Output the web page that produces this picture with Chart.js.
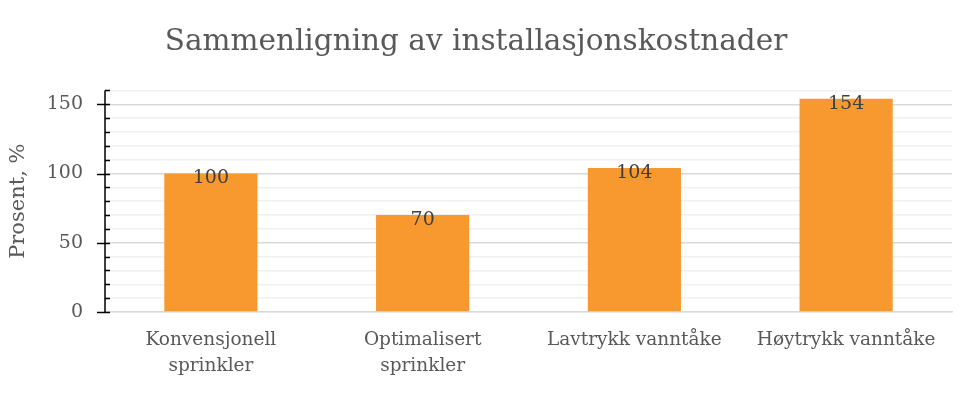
<!DOCTYPE html>
<html>
<head>
<meta charset="utf-8">
<script src="https://cdn.jsdelivr.net/npm/chart.js@4"></script>
<style>
  html, body { margin: 0; padding: 0; background: #fff; }
  #wrap { width: 960px; height: 394px; }
</style>
</head>
<body>
<div id="wrap"><canvas id="chart" width="960" height="394"></canvas></div>
<script>
// data
const categories = [
    ["Konvensjonell", "sprinkler"],
    ["Optimalisert", "sprinkler"],
    "Lavtrykk vanntåke",
    "Høytrykk vanntåke"
];
const costPercent = [100, 70, 104, 154];
const yMajorTicks = [0, 50, 100, 150];

const FONT = "'DejaVu Serif', 'Liberation Serif', serif";
const TEXT = "#595959";

// value labels just under the top of each bar
const barLabels = {
    id: "barLabels",
    afterDatasetsDraw(chart) {
        const ctx = chart.ctx;
        const meta = chart.getDatasetMeta(0);
        ctx.save();
        ctx.font = "19px " + FONT;
        ctx.fillStyle = "#404040";
        ctx.textAlign = "center";
        ctx.textBaseline = "middle";
        meta.data.forEach((bar, i) => {
            ctx.fillText(String(costPercent[i]), bar.x, bar.y + 5);
        });
        ctx.restore();
    }
};

// black tick marks: major cross the axis, minor sit inside
const axisTicks = {
    id: "axisTicks",
    afterDraw(chart) {
        const y = chart.scales.y;
        const ctx = chart.ctx;
        const x0 = y.right;
        ctx.save();
        ctx.strokeStyle = "#000";
        ctx.lineWidth = 1.5;
        ctx.beginPath();
        ctx.moveTo(x0, y.getPixelForValue(0));
        ctx.lineTo(x0, y.top);
        y.ticks.forEach(t => {
            const py = Math.round(y.getPixelForValue(t.value)) + 0.5;
            const major = yMajorTicks.includes(t.value);
            ctx.moveTo(major ? x0 - 8 : x0, py);
            ctx.lineTo(x0 + 5, py);
        });
        ctx.stroke();
        ctx.restore();
    }
};

let costChart;

function initChart() {
    const ctx = document.getElementById("chart");
    costChart = new Chart(ctx, {
        type: "bar",
        data: {
            labels: categories,
            datasets: [{
                label: "Kostnad",
                data: costPercent,
                backgroundColor: "#F7992F",
                categoryPercentage: 1,
                barPercentage: 0.44,
            }],
        },
        options: {
            responsive: false,
            animation: false,
            layout: { padding: { left: 0, right: 8, top: 0, bottom: 0 } },
            plugins: {
                legend: { display: false },
                tooltip: { enabled: false },
                title: {
                    display: true,
                    text: "Sammenligning av installasjonskostnader",
                    color: TEXT,
                    font: { family: FONT, size: 29.5, weight: "normal" },
                    padding: { top: 25, bottom: 30 },
                },
            },
            scales: {
                x: {
                    grid: { display: false, drawTicks: false },
                    border: { color: "#d9d9d9", width: 1.5 },
                    ticks: {
                        color: TEXT,
                        padding: 15,
                        maxRotation: 0,
                        autoSkip: false,
                        font: { family: FONT, size: 18.5, lineHeight: 1.4 },
                    },
                    afterFit(scale) { scale.height = 82; },
                },
                y: {
                    min: 0,
                    max: 160,
                    ticks: {
                        stepSize: 10,
                        autoSkip: false,
                        color: TEXT,
                        padding: 14,
                        font: { family: FONT, size: 19 },
                        callback: v => (yMajorTicks.includes(v) ? v : ""),
                    },
                    grid: {
                        drawTicks: true,
                        tickLength: 8,
                        tickColor: "rgba(0,0,0,0)",
                        color: c => (yMajorTicks.includes(c.tick.value) && c.tick.value !== 0 ? "#d9d9d9" : "#f0f0f0"),
                        lineWidth: 1.5,
                    },
                    border: { display: false },
                    title: {
                        display: true,
                        text: "Prosent, %",
                        color: TEXT,
                        font: { family: FONT, size: 21 },
                        padding: { top: 6, bottom: 2 },
                    },
                    afterFit(scale) { scale.width = 105; },
                },
            },
        },
        plugins: [barLabels, axisTicks],
    });
}

window.addEventListener("DOMContentLoaded", () => {
    initChart();
});
</script>
</body>
</html>
